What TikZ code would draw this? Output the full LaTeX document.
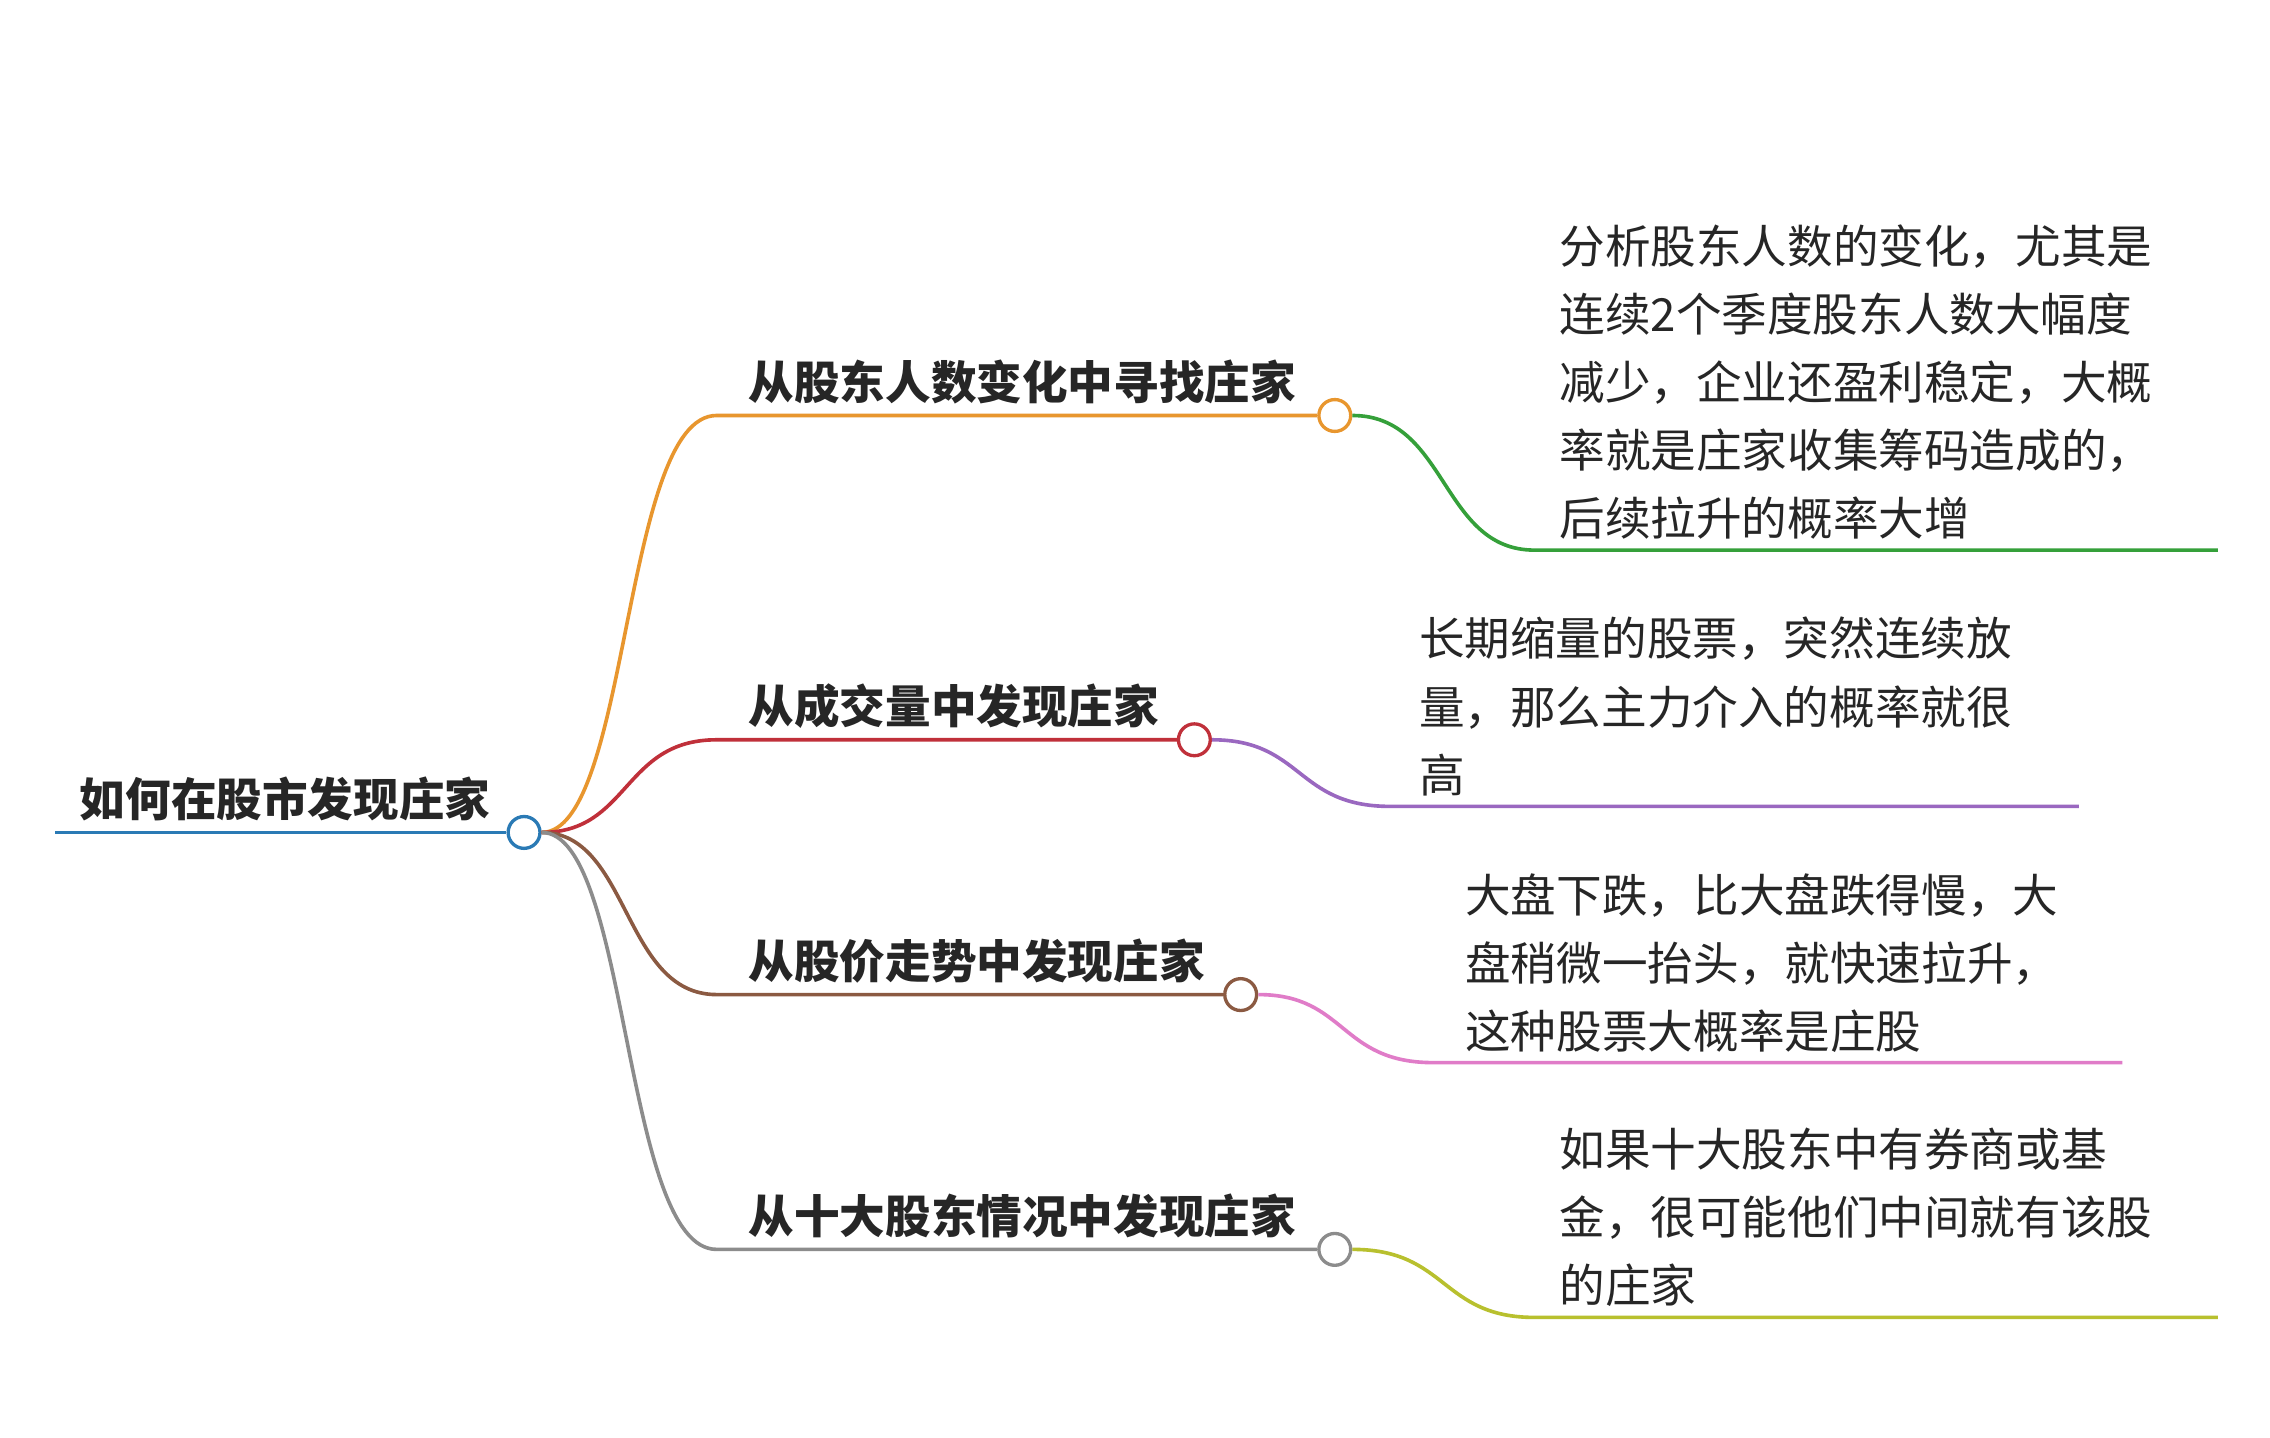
\documentclass[tikz,border=0pt]{standalone}
\usepackage{fontspec}
\newfontfamily\cjk{Noto Sans CJK SC}
\definecolor{cblue}{HTML}{2A7AB5}
\definecolor{corange}{HTML}{E8962E}
\definecolor{cred}{HTML}{C0303A}
\definecolor{cbrown}{HTML}{8B5A42}
\definecolor{cgray}{HTML}{8C8C8C}
\definecolor{cgreen}{HTML}{35A03A}
\definecolor{cpurple}{HTML}{9A68C0}
\definecolor{cpink}{HTML}{E07CC8}
\definecolor{colive}{HTML}{B8C02E}
\tikzset{
  knot/.style={circle,draw=#1,fill=white,line width=2.3pt,minimum size=22pt,inner sep=0},
  edge/.style={draw=#1,line width=2.5pt},
  btext/.style={anchor=west,inner sep=0,font=\cjk\bfseries\fontsize{31.5}{36}\selectfont,text=black!85},
  ltext/.style={anchor=west,inner sep=0,align=left,font=\cjk\fontsize{31.5}{47}\selectfont,text=black!85},
}
\begin{document}
\begin{tikzpicture}[x=1pt,y=-1pt]
\useasboundingbox[fill=white] (0,0) rectangle (1568,993);
% root
\coordinate (r0) at (38,575);
\node[knot=cblue] (r) at (362,575) {};
\draw[edge=cblue] (r0) -- (r.west);
\node[btext] (rt) at (55,552) {如何在股市发现庄家};
% branches
\node[knot=corange] (k1) at (922,287) {};
\node[knot=cred] (k2) at (825,511) {};
\node[knot=cbrown] (k3) at (857,687) {};
\node[knot=cgray] (k4) at (922,863) {};
\coordinate (b1) at (495,287);
\coordinate (b2) at (495,511);
\coordinate (b3) at (495,687);
\coordinate (b4) at (495,863);
\draw[edge=corange] (r.east) .. controls (435,575) and (430,287) .. (b1) -- (k1.west);
\draw[edge=cred] (r.east) .. controls (435,575) and (430,511) .. (b2) -- (k2.west);
\draw[edge=cbrown] (r.east) .. controls (435,575) and (430,687) .. (b3) -- (k3.west);
\draw[edge=cgray] (r.east) .. controls (435,575) and (430,863) .. (b4) -- (k4.west);
\node[btext] (t1) at (517,264) {从股东人数变化中寻找庄家};
\node[btext] (t2) at (517,488) {从成交量中发现庄家};
\node[btext] (t3) at (517,664) {从股价走势中发现庄家};
\node[btext] (t4) at (517,840) {从十大股东情况中发现庄家};
% leaves
\coordinate (l1a) at (1060,380); \coordinate (l1b) at (1532,380);
\coordinate (l2a) at (960,557); \coordinate (l2b) at (1436,557);
\coordinate (l3a) at (990,734); \coordinate (l3b) at (1466,734);
\coordinate (l4a) at (1060,910); \coordinate (l4b) at (1532,910);
\draw[edge=cgreen] (k1.east) .. controls (1000,287) and (995,380) .. (l1a) -- (l1b);
\draw[edge=cpurple] (k2.east) .. controls (900,511) and (895,557) .. (l2a) -- (l2b);
\draw[edge=cpink] (k3.east) .. controls (930,687) and (925,734) .. (l3a) -- (l3b);
\draw[edge=colive] (k4.east) .. controls (1000,863) and (995,910) .. (l4a) -- (l4b);
\node[ltext] (d1) at (1077,264) {分析股东人数的变化，尤其是\\连续2个季度股东人数大幅度\\减少，企业还盈利稳定，大概\\率就是庄家收集筹码造成的，\\后续拉升的概率大增};
\node[ltext] (d2) at (980,488) {长期缩量的股票，突然连续放\\量，那么主力介入的概率就很\\高};
\node[ltext] (d3) at (1012,665) {大盘下跌，比大盘跌得慢，大\\盘稍微一抬头，就快速拉升，\\这种股票大概率是庄股};
\node[ltext] (d4) at (1077,841) {如果十大股东中有券商或基\\金，很可能他们中间就有该股\\的庄家};
\end{tikzpicture}
\end{document}
